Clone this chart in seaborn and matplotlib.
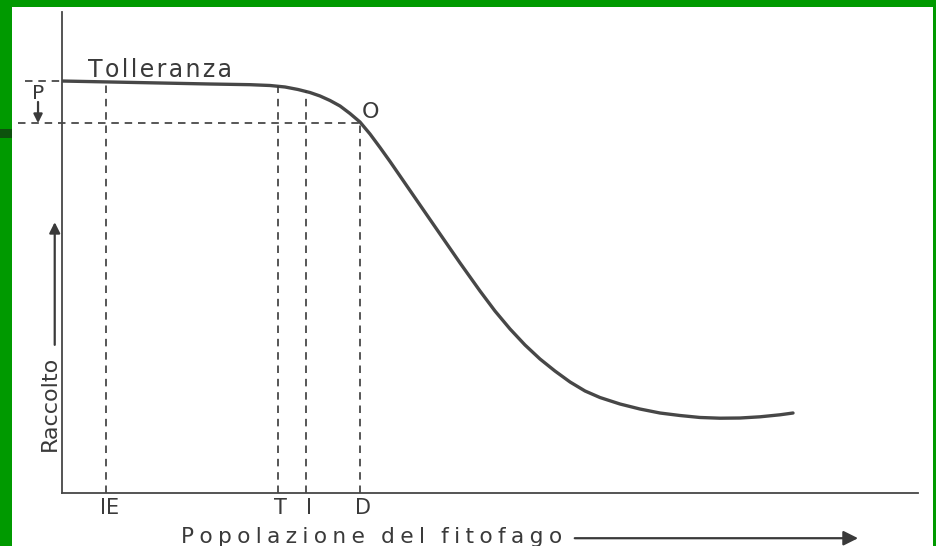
import matplotlib
matplotlib.use("Agg")
import matplotlib.pyplot as plt
from matplotlib.patches import Rectangle
import seaborn as sns
import pandas as pd

# Yield curve against pest population (arbitrary units, 0-100 on both axes)
population = [0, 5.61, 11.45, 17.29, 21.96, 24.30, 26.05, 27.57, 28.97, 30.14,
              31.31, 32.48, 33.64, 34.81, 35.98, 37.15, 38.32, 39.49, 41.82, 44.16,
              46.50, 48.83, 50.58, 52.34, 54.09, 55.84, 57.59, 59.35, 61.10, 62.85,
              65.19, 67.52, 69.86, 72.20, 74.53, 76.87, 79.21, 81.54, 83.88, 85.40]
raccolto = [85.65, 85.45, 85.24, 85.03, 84.89, 84.72, 84.41, 83.89, 83.26, 82.54,
            81.60, 80.46, 78.90, 77.13, 74.64, 71.83, 68.92, 65.90, 59.88, 53.85,
            47.82, 42.00, 37.84, 34.10, 30.77, 27.86, 25.36, 23.08, 21.21, 19.85,
            18.50, 17.46, 16.63, 16.11, 15.70, 15.55, 15.59, 15.84, 16.26, 16.63]

# Threshold markers on the population axis and the yield where each meets the curve
soglie = ["IE", "T", "I", "D"]
soglie_x = [5.1, 25.2, 28.5, 34.8]
soglie_y = [85.5, 84.6, 83.5, 77.1]

livello_tolleranza = 85.65  # yield with no damage
livello_danno = 76.9        # yield at the damage point O

df = pd.DataFrame({"Popolazione": population, "Raccolto": raccolto})

sns.set_theme(style="white")
plt.rcParams["font.family"] = ["DejaVu Sans"]

INK = "#3a3a3a"
fig = plt.figure(figsize=(9.36, 5.46), dpi=100, facecolor="white")
ax = fig.add_axes([62 / 936, 53 / 546, 856 / 936, 481 / 546])
ax.set_facecolor("white")

sns.lineplot(data=df, x="Popolazione", y="Raccolto", ax=ax, color="#474747",
             linewidth=2.4, sort=False, estimator=None,
             solid_capstyle="round", solid_joinstyle="round")

ax.set_xlim(0, 100)
ax.set_ylim(0, 100)
ax.set_xticks([])
ax.set_yticks([])
ax.set_xlabel("")
ax.set_ylabel("")
for side in ["top", "right"]:
    ax.spines[side].set_visible(False)
for side in ["left", "bottom"]:
    ax.spines[side].set_color("#474747")
    ax.spines[side].set_linewidth(1.3)

dash = (0, (4.5, 3.5))
# vertical threshold lines from the curve down to the axis
for xs, ys in zip(soglie_x, soglie_y):
    ax.plot([xs, xs], [0, ys], color=INK, lw=1.2, linestyle=dash)
# horizontal reference levels
ax.plot([-4.3, 0], [livello_tolleranza] * 2, color=INK, lw=1.2, linestyle=dash,
        clip_on=False)
ax.plot([-5.1, soglie_x[3]], [livello_danno] * 2, color=INK, lw=1.2, linestyle=dash,
        clip_on=False)

# threshold labels under the axis
offsets = [0.5, 0.35, 0.3, 0.35]
for lab, xs, dx in zip(soglie, soglie_x, offsets):
    ax.text(xs + dx, -3.2, lab, ha="center", va="center", fontsize=15,
            color=INK, clip_on=False)

hair = "\u200a"
ax.text(3.0, 86.4, hair.join("Tolleranza"), ha="left", va="baseline",
        fontsize=17, color=INK)
ax.text(-2.8, 83.0, "P", ha="center", va="center", fontsize=14.5, color=INK,
        clip_on=False)
ax.annotate("", xy=(-2.8, 76.9), xytext=(-2.8, 81.3), xycoords="data",
            arrowprops=dict(arrowstyle="-|>", color=INK, lw=1.6,
                            mutation_scale=13, shrinkA=0, shrinkB=0),
            annotation_clip=False)
ax.text(36.0, 79.3, "O", ha="center", va="center", fontsize=16, color=INK)

# axis titles with their direction arrows
gap = "\u2005"
titolo_x = "Popolazione del fitofago"
spaced = (gap * 3).join(gap.join(w) for w in titolo_x.split(" "))
ax.text(13.9, -9.2, spaced, ha="left", va="center", fontsize=15.6,
        color=INK, clip_on=False)
ax.annotate("", xy=(93.0, -9.4), xytext=(59.9, -9.4), xycoords="data",
            arrowprops=dict(arrowstyle="-|>", color=INK, lw=1.6,
                            mutation_scale=22, shrinkA=0, shrinkB=0),
            annotation_clip=False)

ax.text(-1.4, 18.7, "Raccolto", rotation=90, ha="center", va="center",
        fontsize=16, color=INK, clip_on=False)
ax.annotate("", xy=(-0.85, 56.3), xytext=(-0.85, 30.8), xycoords="data",
            arrowprops=dict(arrowstyle="-|>", color=INK, lw=1.6,
                            mutation_scale=16, shrinkA=0, shrinkB=0),
            annotation_clip=False)

# slide frame
green = "#009a00"
for rect in [(0, 539 / 546, 1, 7 / 546),
             (0, 0, 12 / 936, 1),
             (933 / 936, 0, 3 / 936, 1)]:
    fig.add_artist(Rectangle(rect[:2], rect[2], rect[3], transform=fig.transFigure,
                             facecolor=green, edgecolor="none", zorder=10))
fig.add_artist(Rectangle((0, 408 / 546), 12 / 936, 9 / 546, transform=fig.transFigure,
                         facecolor="#0d520d", edgecolor="none", zorder=11))

fig.savefig("out.png", dpi=100, facecolor="white")
